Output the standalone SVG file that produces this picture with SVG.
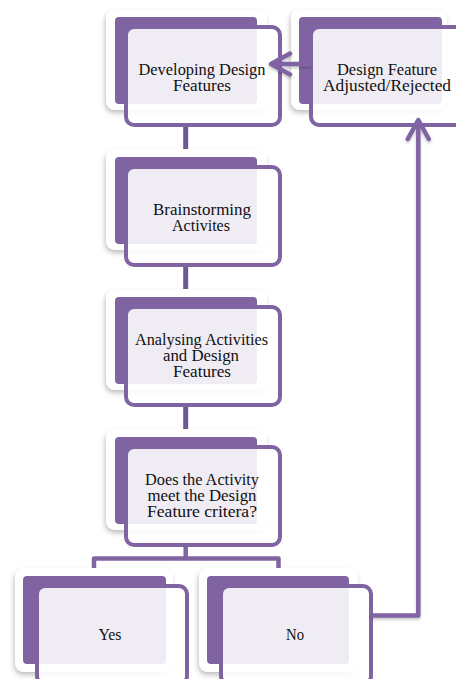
<svg xmlns="http://www.w3.org/2000/svg" width="456" height="679" viewBox="0 0 456 679">
<defs>
<filter id="sh" x="-15%" y="-15%" width="130%" height="135%"><feDropShadow dx="-1" dy="3" stdDeviation="2.5" flood-color="#000" flood-opacity="0.25"/></filter>
<filter id="lsh" filterUnits="userSpaceOnUse" x="0" y="0" width="456" height="679"><feDropShadow dx="0" dy="2" stdDeviation="1.5" flood-color="#000" flood-opacity="0.22"/></filter>
<marker id="ah" viewBox="-22 -13 26 26" markerWidth="26" markerHeight="26" refX="0" refY="0" orient="auto" markerUnits="userSpaceOnUse">
<path d="M-19,-10.5 L0,0 L-19,10.5" fill="none" stroke="#8064A2" stroke-width="4.5" stroke-linecap="round" stroke-linejoin="round"/>
</marker>
</defs>
<style>
.o{fill:#fff;filter:url(#sh)}
.p{fill:#8064A2}
.i{fill:#fff;fill-opacity:0.88;stroke:#8064A2;stroke-width:4}
.t{font-family:"Liberation Serif","Times New Roman",serif;font-size:16px;fill:#111;text-anchor:middle}
.c{fill:none;stroke:#8064A2;stroke-width:4.5;stroke-linejoin:round}
.l{fill:none;stroke:#6f5898;stroke-width:5}
</style>
<rect width="456" height="679" fill="#fff"/>

<g id="n1">
<rect class="o" x="106" y="9" width="161" height="101" rx="9"/>
<rect class="p" x="115" y="17" width="142" height="87" rx="4"/>
<rect class="i" x="126" y="27" width="154" height="98" rx="8"/>
<text class="t" x="202" y="75" textLength="127" lengthAdjust="spacingAndGlyphs">Developing Design</text>
<text class="t" x="202" y="91" textLength="58" lengthAdjust="spacingAndGlyphs">Features</text>
</g>

<g id="n2">
<rect class="o" x="106" y="149" width="161" height="101" rx="9"/>
<rect class="p" x="115" y="157" width="142" height="87" rx="4"/>
<rect class="i" x="126" y="167" width="154" height="98" rx="8"/>
<text class="t" x="202" y="215" textLength="98" lengthAdjust="spacingAndGlyphs">Brainstorming</text>
<text class="t" x="201" y="231" textLength="58" lengthAdjust="spacingAndGlyphs">Activites</text>
</g>

<g id="n3">
<rect class="o" x="106" y="289" width="161" height="101" rx="9"/>
<rect class="p" x="115" y="297" width="142" height="87" rx="4"/>
<rect class="i" x="126" y="307" width="154" height="98" rx="8"/>
<text class="t" x="201.5" y="345" textLength="133" lengthAdjust="spacingAndGlyphs">Analysing Activities</text>
<text class="t" x="201" y="361" textLength="76" lengthAdjust="spacingAndGlyphs">and Design</text>
<text class="t" x="202" y="377" textLength="58" lengthAdjust="spacingAndGlyphs">Features</text>
</g>

<g id="n4">
<rect class="o" x="106" y="429" width="161" height="101" rx="9"/>
<rect class="p" x="115" y="437" width="142" height="87" rx="4"/>
<rect class="i" x="126" y="447" width="154" height="98" rx="8"/>
<text class="t" x="202" y="485" textLength="114" lengthAdjust="spacingAndGlyphs">Does the Activity</text>
<text class="t" x="202" y="501" textLength="109" lengthAdjust="spacingAndGlyphs">meet the Design</text>
<text class="t" x="202" y="517" textLength="110" lengthAdjust="spacingAndGlyphs">Feature critera?</text>
</g>

<g id="n5">
<rect class="o" x="291" y="9" width="156" height="101" rx="9"/>
<rect class="p" x="299" y="17" width="143" height="87" rx="4"/>
<rect class="i" x="311" y="27" width="154" height="98" rx="8"/>
<text class="t" x="387" y="75" textLength="100" lengthAdjust="spacingAndGlyphs">Design Feature</text>
<text class="t" x="387" y="91" textLength="128" lengthAdjust="spacingAndGlyphs">Adjusted/Rejected</text>
</g>

<g id="n6">
<rect class="o" x="15" y="568" width="158" height="104" rx="9"/>
<rect class="p" x="23" y="576" width="143" height="88" rx="4"/>
<rect class="i" x="37" y="586" width="150" height="98" rx="8"/>
<text class="t" x="110" y="640" textLength="23" lengthAdjust="spacingAndGlyphs">Yes</text>
</g>

<g id="n7">
<rect class="o" x="199" y="568" width="159" height="104" rx="9"/>
<rect class="p" x="207" y="576" width="142" height="88" rx="4"/>
<rect class="i" x="221" y="586" width="150" height="98" rx="8"/>
<text class="t" x="295" y="640" textLength="18" lengthAdjust="spacingAndGlyphs">No</text>
</g>

<g id="connectors">
<line class="l" x1="185.7" y1="127" x2="185.7" y2="149"/>
<line class="l" x1="185.7" y1="267" x2="185.7" y2="289"/>
<line class="l" x1="185.7" y1="407" x2="185.7" y2="429"/>
<path class="c" d="M185.7,547 V558.5 M94,568 V558.5 H278.5 V568"/>
<path class="c" filter="url(#lsh)" d="M372,615.5 H418.3 V120" marker-end="url(#ah)"/>
<path class="c" filter="url(#lsh)" d="M311,64 H271" marker-end="url(#ah)"/>
</g>
</svg>
